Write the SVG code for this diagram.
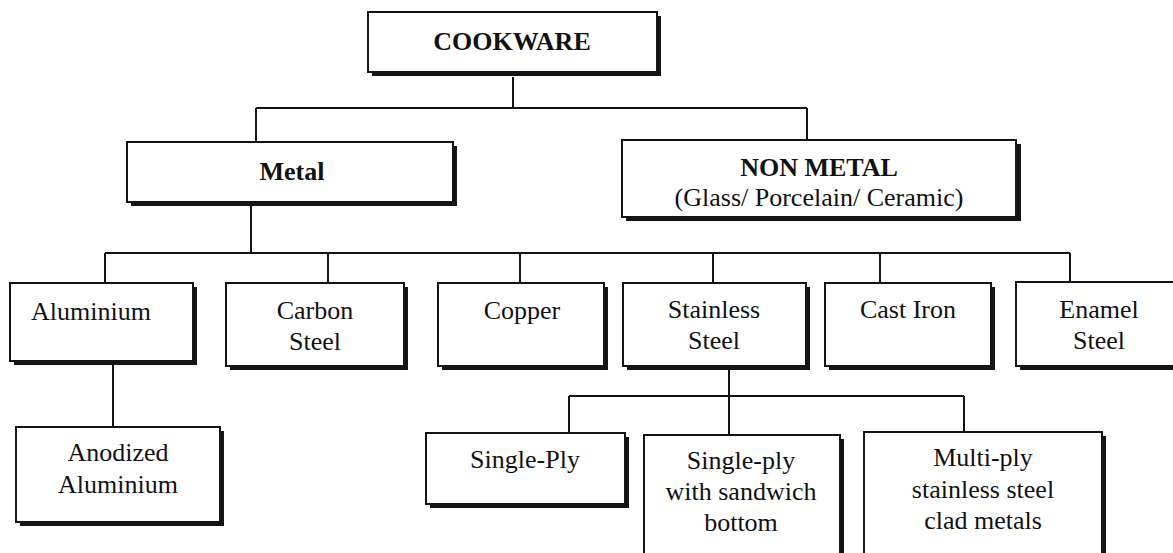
<svg xmlns="http://www.w3.org/2000/svg" width="1173" height="553" viewBox="0 0 1173 553" font-family="'Liberation Serif', 'Times New Roman', 'DejaVu Serif', serif">
<style>
.sh{fill:#141414;stroke:none}
.bx{fill:#fff;stroke:#141414;stroke-width:2}
text{font-family:'Liberation Serif','Times New Roman','DejaVu Serif',serif;font-size:26px;fill:#111;text-anchor:middle}
.b{font-weight:bold}
.c{fill:none;stroke:#141414;stroke-width:2}
</style>
<rect width="1173" height="553" fill="#fff"/>
<g id="connectors" class="c">
<path d="M513 77V108M256 108H807M256 108V142M807 108V140"/>
<path d="M251 204V253M105 253H1070M105 253V283M328 253V283M520 253V283M713 253V283M880 253V283M1070 253V282"/>
<path d="M113 365V427"/>
<path d="M729 370V435M569 396H964M569 396V433M964 396V432"/>
</g>
<g id="cookware"><rect class="sh" x="372" y="16" width="289" height="60"/><rect class="bx" x="368" y="12" width="289" height="60"/><text class="b" x="512" y="50">COOKWARE</text></g>
<g id="metal"><rect class="sh" x="131" y="146" width="326" height="60"/><rect class="bx" x="127" y="142" width="326" height="60"/><text class="b" x="292" y="180">Metal</text></g>
<g id="nonmetal"><rect class="sh" x="626" y="144" width="395" height="77"/><rect class="bx" x="622" y="140" width="394" height="77"/><text class="b" x="819" y="176">NON METAL</text><text x="819" y="206">(Glass/ Porcelain/ Ceramic)</text></g>
<g id="aluminium"><rect class="sh" x="14" y="287" width="183" height="78"/><rect class="bx" x="10" y="283" width="183" height="78"/><text x="91" y="320">Aluminium</text></g>
<g id="carbon"><rect class="sh" x="230" y="287" width="178" height="83"/><rect class="bx" x="226" y="283" width="178" height="83"/><text x="315" y="319">Carbon</text><text x="315" y="350">Steel</text></g>
<g id="copper"><rect class="sh" x="442" y="287" width="166" height="83"/><rect class="bx" x="438" y="283" width="166" height="83"/><text x="522" y="319">Copper</text></g>
<g id="stainless"><rect class="sh" x="627" y="287" width="183" height="83"/><rect class="bx" x="623" y="283" width="183" height="83"/><text x="714" y="318">Stainless</text><text x="714" y="349">Steel</text></g>
<g id="castiron"><rect class="sh" x="829" y="287" width="166" height="83"/><rect class="bx" x="825" y="283" width="166" height="83"/><text x="908" y="318">Cast Iron</text></g>
<g id="enamel"><rect class="sh" x="1020" y="286" width="166" height="84"/><rect class="bx" x="1016" y="282" width="166" height="84"/><text x="1099" y="318">Enamel</text><text x="1099" y="349">Steel</text></g>
<g id="anodized"><rect class="sh" x="20" y="431" width="204" height="95"/><rect class="bx" x="16" y="427" width="204" height="95"/><text x="118" y="461">Anodized</text><text x="118" y="493">Aluminium</text></g>
<g id="singleply"><rect class="sh" x="430" y="437" width="199" height="71"/><rect class="bx" x="426" y="433" width="199" height="71"/><text x="525" y="468">Single-Ply</text></g>
<g id="sandwich"><rect class="sh" x="648" y="439" width="196" height="130"/><rect class="bx" x="644" y="435" width="196" height="130"/><text x="741" y="469">Single-ply</text><text x="741" y="500">with sandwich</text><text x="741" y="531">bottom</text></g>
<g id="multiply"><rect class="sh" x="868" y="436" width="238" height="130"/><rect class="bx" x="864" y="432" width="238" height="130"/><text x="983" y="466">Multi-ply</text><text x="983" y="498">stainless steel</text><text x="983" y="529">clad metals</text></g>
</svg>
